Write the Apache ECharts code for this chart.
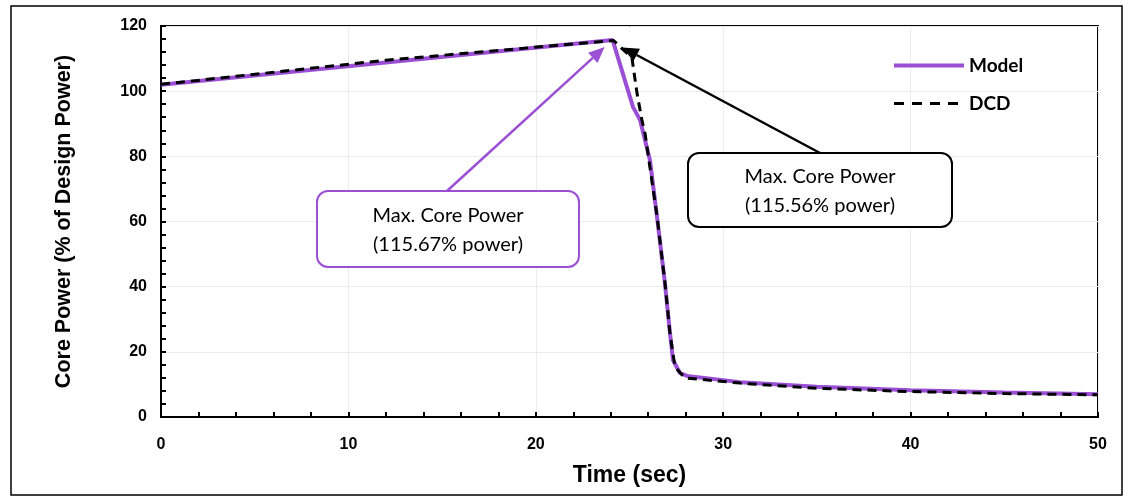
<!DOCTYPE html>
<html>
<head>
<meta charset="utf-8">
<script src="https://cdn.jsdelivr.net/npm/echarts@6/dist/echarts.min.js"></script>
<style>
  html, body { margin: 0; padding: 0; background: #ffffff; }
  #chart { width: 1133px; height: 502px; }
</style>
</head>
<body>
<div id="chart"></div>
<script>
// Core power transient: model prediction vs DCD reference
const modelTime  = [0, 24.1, 25.19, 25.56, 26.09, 26.47, 26.89, 27.16, 27.32, 27.69, 28.07, 30.9, 35, 40, 45, 50];
const modelPower = [102.0, 115.67, 95.1, 91.2, 78.9, 61.4, 41.1, 25.8, 17.5, 13.5, 12.6, 10.7, 9.3, 8.2, 7.5, 7.0];

const dcdTime  = [0, 12, 24.15, 25.13, 25.4, 25.66, 25.83, 26.47, 26.89, 27.16, 27.43, 27.96, 30.9, 35, 40, 45, 50];
const dcdPower = [102.1, 109.5, 115.56, 110.2, 99.4, 91.2, 87.0, 61.6, 41.3, 25.6, 15.3, 12.0, 10.4, 8.8, 7.8, 7.2, 6.8];

const xTicks = [0, 10, 20, 30, 40, 50];
const yTicks = [0, 20, 40, 60, 80, 100, 120];

const modelPeakText = ['Max. Core Power', '(115.67% power)'];
const dcdPeakText   = ['Max. Core Power', '(115.56% power)'];

const PURPLE = '#9a4fd4';
const zip = (xs, ys) => xs.map((x, i) => [x, ys[i]]);

const chart = echarts.init(document.getElementById('chart'), null, { renderer: 'canvas' });

chart.setOption({
  animation: false,
  backgroundColor: '#ffffff',
  grid: {
    left: 161, right: 35, top: 26, bottom: 85,
    show: true, borderColor: '#000', borderWidth: 2, backgroundColor: 'transparent'
  },
  legend: {
    orient: 'vertical',
    left: 887, top: 51,
    itemWidth: 70, itemHeight: 20, itemGap: 19,
    itemStyle: { opacity: 0 },
    textStyle: { fontFamily: 'Lato', fontWeight: 'bold', fontSize: 19, color: '#000' },
    data: [
      { name: 'Model', lineStyle: { width: 4, color: PURPLE } },
      { name: 'DCD', lineStyle: { width: 3, color: '#000', type: [10, 8] } }
    ]
  },
  xAxis: {
    type: 'value',
    min: xTicks[0], max: xTicks[xTicks.length - 1], interval: 10,
    name: 'Time (sec)', nameLocation: 'middle', nameGap: 47,
    nameTextStyle: { fontFamily: 'Liberation Sans', fontWeight: 'bold', fontSize: 23, color: '#000' },
    axisLine: { show: true, lineStyle: { color: '#000', width: 2 } },
    axisTick: { show: true, inside: true, length: 5, lineStyle: { color: '#000', width: 2 } },
    minorTick: { show: true, splitNumber: 5, length: 5, lineStyle: { color: '#000', width: 2 } },
    axisLabel: { margin: 20, fontFamily: 'Liberation Sans', fontWeight: 'bold', fontSize: 16, color: '#000' },
    splitLine: { show: true, lineStyle: { color: '#ececec', width: 1 } }
  },
  yAxis: {
    type: 'value',
    min: yTicks[0], max: yTicks[yTicks.length - 1], interval: 20,
    name: 'Core Power (% of Design Power)', nameLocation: 'middle', nameGap: 86, nameRotate: 90,
    nameTextStyle: { fontFamily: 'Liberation Sans', fontWeight: 'bold', fontSize: 21.5, color: '#000' },
    axisLine: { show: true, lineStyle: { color: '#000', width: 2 } },
    axisTick: { show: true, inside: true, length: 5, lineStyle: { color: '#000', width: 2 } },
    minorTick: { show: true, splitNumber: 5, length: 5, lineStyle: { color: '#000', width: 2 } },
    axisLabel: { margin: 14, fontFamily: 'Liberation Sans', fontWeight: 'bold', fontSize: 16, color: '#000' },
    splitLine: { show: true, lineStyle: { color: '#ececec', width: 1 } }
  },
  series: [
    {
      name: 'Model', type: 'line', data: zip(modelTime, modelPower),
      symbol: 'none', smooth: false, z: 2,
      itemStyle: { color: PURPLE },
      lineStyle: { color: PURPLE, width: 4 }
    },
    {
      name: 'DCD', type: 'line', data: zip(dcdTime, dcdPower),
      symbol: 'none', smooth: false, z: 3,
      itemStyle: { color: '#000' },
      lineStyle: { color: '#000', width: 3, type: [9, 6] }
    }
  ]
});

// Arrow from a point to a tip, with a filled head at the tip
function arrow(from, tip, color) {
  const dx = tip[0] - from[0], dy = tip[1] - from[1];
  const len = Math.hypot(dx, dy), ux = dx / len, uy = dy / len;
  const headLen = 16, headHalf = 7;
  const base = [tip[0] - ux * headLen, tip[1] - uy * headLen];
  return [
    { type: 'line', shape: { x1: from[0], y1: from[1], x2: base[0], y2: base[1] },
      style: { stroke: color, lineWidth: 2.5 }, z: 20 },
    { type: 'polygon', shape: { points: [
        tip,
        [base[0] - uy * headHalf, base[1] + ux * headHalf],
        [base[0] + uy * headHalf, base[1] - ux * headHalf]
      ] }, style: { fill: color }, z: 20 }
  ];
}

function callout(x, y, w, h, color, lines) {
  return {
    type: 'group', z: 21,
    children: [
      { type: 'rect', shape: { x: x, y: y, width: w, height: h, r: 11 },
        style: { fill: '#fff', stroke: color, lineWidth: 2 } },
      { type: 'text', x: x + w / 2, y: y + h / 2 + 1,
        style: { text: lines.join('\n'), fill: '#000', align: 'center', verticalAlign: 'middle',
                 font: '20px Lato', lineHeight: 29 } }
    ]
  };
}

// Peaks of each series locate the arrow tips
const mi = modelPower.indexOf(Math.max(...modelPower));
const di = dcdPower.indexOf(Math.max(...dcdPower));
const mPeak = chart.convertToPixel({ gridIndex: 0 }, [modelTime[mi], modelPower[mi]]);
const dPeak = chart.convertToPixel({ gridIndex: 0 }, [dcdTime[di], dcdPower[di]]);

chart.setOption({
  graphic: [
    { type: 'rect', shape: { x: 11, y: 6, width: 1111, height: 489 },
      style: { fill: 'none', stroke: '#000', lineWidth: 1.5 }, z: 30 },
    ...arrow([447, 191], [mPeak[0] - 8, mPeak[1] + 7], PURPLE),
    ...arrow([820, 153], [dPeak[0] + 9, dPeak[1] + 7], '#000'),
    callout(317, 191, 262, 76, PURPLE, modelPeakText),
    callout(688, 153, 264, 74, '#000', dcdPeakText)
  ]
});
</script>
</body>
</html>
